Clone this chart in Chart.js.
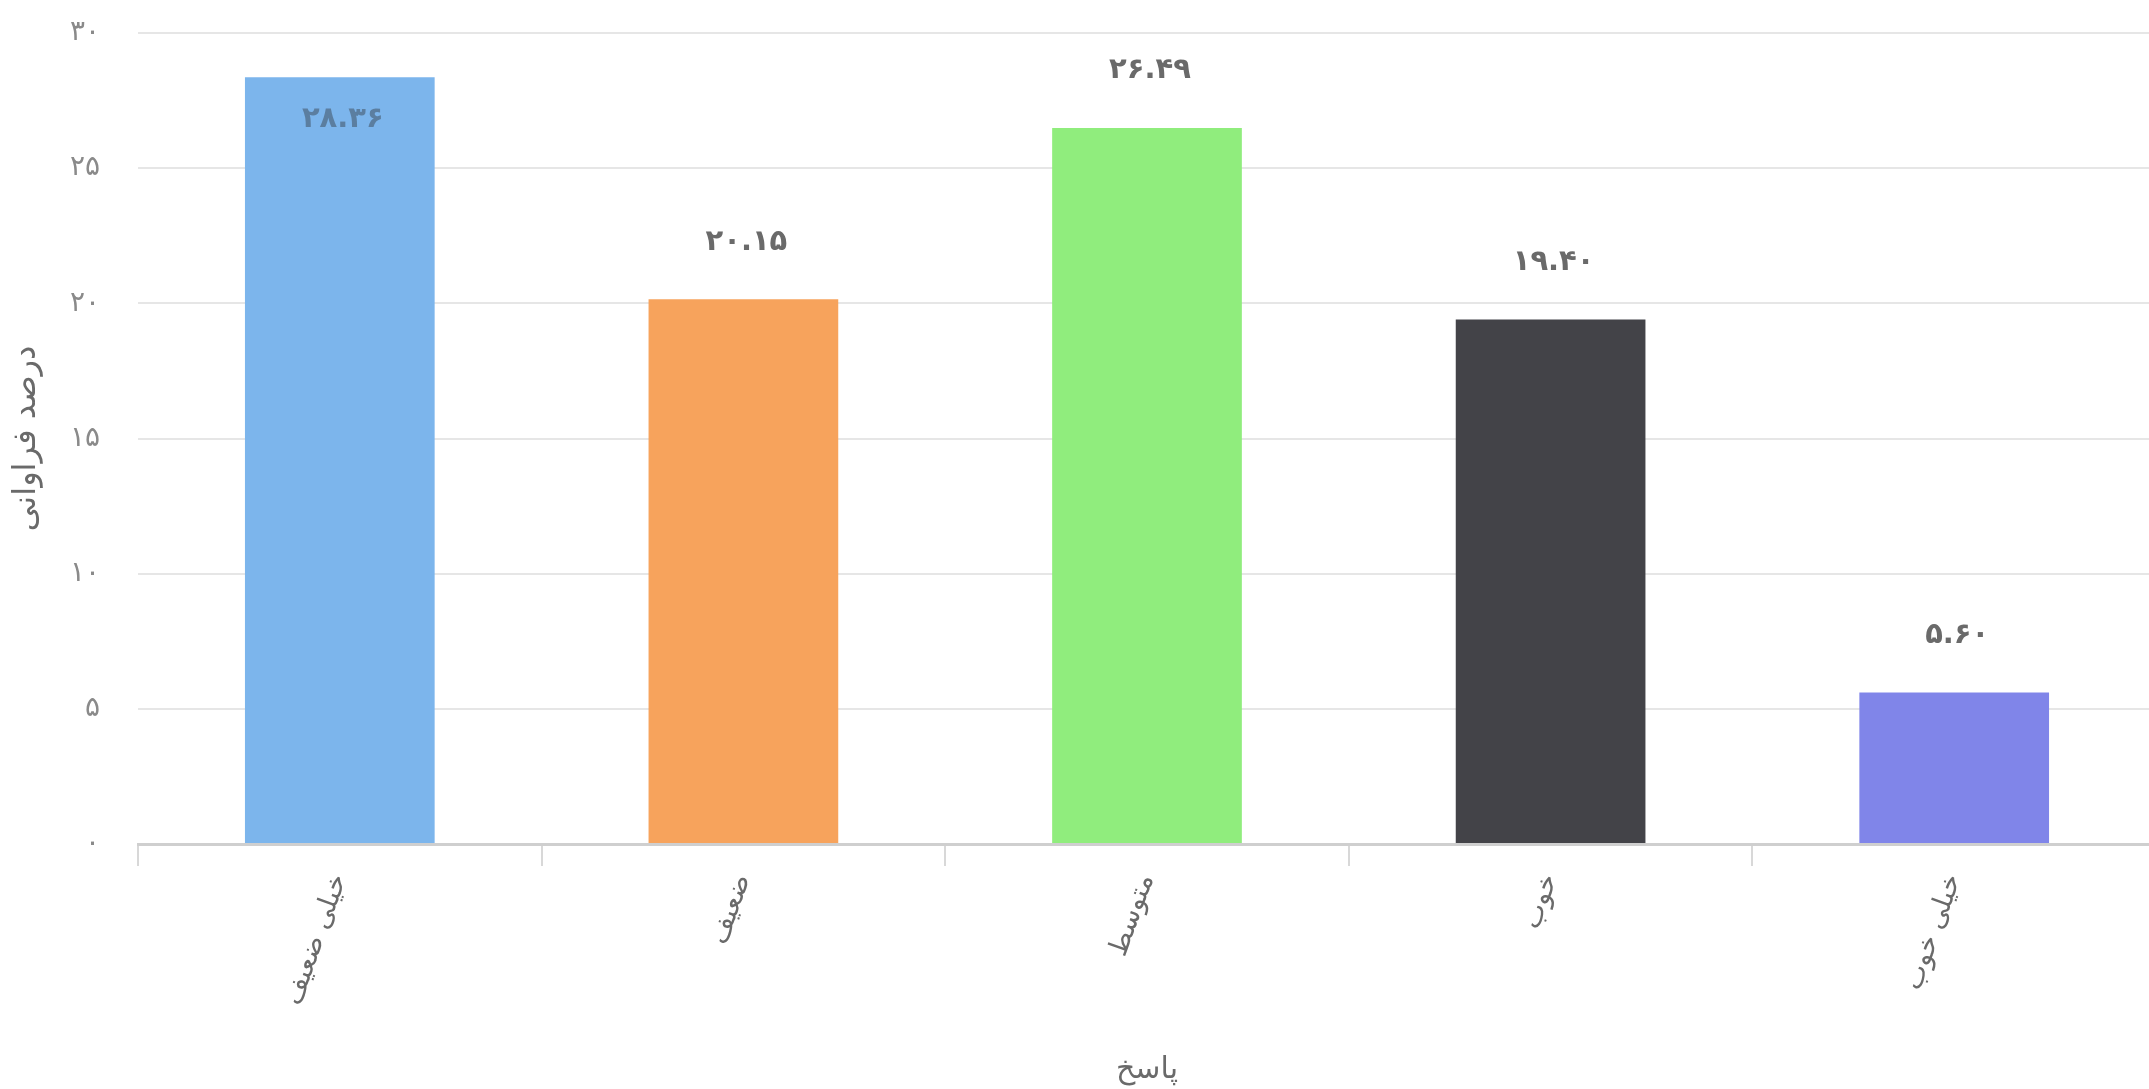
<!DOCTYPE html>
<html>
<head>
<meta charset="utf-8">
<script src="https://cdn.jsdelivr.net/npm/chart.js@4/dist/chart.umd.min.js"></script>
<style>
html,body{margin:0;padding:0;background:#fff;overflow:hidden;}
#wrap{position:relative;width:2156px;height:1089px;}
</style>
</head>
<body>
<div id="wrap"><canvas id="c"></canvas></div>
<script>
const categories = ['خیلی ضعیف', 'ضعیف', 'متوسط', 'خوب', 'خیلی خوب'];
const values = [28.36, 20.15, 26.49, 19.40, 5.60];
const valueLabels = ['۲۸.۳۶', '۲۰.۱۵', '۲۶.۴۹', '۱۹.۴۰', '۵.۶۰'];
const yTickLabels = ['۰', '۵', '۱۰', '۱۵', '۲۰', '۲۵', '۳۰'];
const barColors = ['#7cb5ec', '#f7a35c', '#90ed7d', '#434348', '#8085e9'];
const yTitle = 'درصد فراوانی';
const xTitle = 'پاسخ';

const FONT = '"DejaVu Sans", sans-serif';

const valueLabelPlugin = {
  id: 'valueLabels',
  afterDatasetsDraw(chart) {
    const ctx = chart.ctx;
    const meta = chart.getDatasetMeta(0);
    const area = chart.chartArea;
    ctx.save();
    ctx.font = 'bold 29px ' + FONT;
    ctx.textAlign = 'center';
    ctx.textBaseline = 'middle';
    try { ctx.letterSpacing = '6px'; } catch (e) {}
    meta.data.forEach((el, i) => {
      let y = el.y - 57;
      if (y < area.top) {
        y = el.y + 42;
        ctx.fillStyle = 'rgba(70,90,110,0.6)';
      } else {
        ctx.fillStyle = '#6a6a6a';
      }
      ctx.fillText(valueLabels[i], el.x + 3, y);
    });
    ctx.restore();
  }
};

new Chart(document.getElementById('c'), {
  type: 'bar',
  data: {
    labels: categories,
    datasets: [{
      data: values,
      backgroundColor: barColors,
      borderWidth: 0,
      barPercentage: 0.47,
      categoryPercentage: 1.0
    }]
  },
  options: {
    responsive: true,
    maintainAspectRatio: false,
    animation: false,
    layout: { padding: { top: 33, left: 0, right: 0, bottom: 0 } },
    plugins: { legend: { display: false }, tooltip: { enabled: false } },
    scales: {
      x: {
        afterFit(scale) { scale.height = 245; scale.paddingLeft = 0; scale.paddingRight = 0; },
        border: { display: true, color: '#cfcfcf', width: 3 },
        grid: { display: true, drawOnChartArea: false, drawTicks: true, tickLength: 22, color: '#d8d8d8', lineWidth: 2, offset: true },
        ticks: {
          minRotation: 70, maxRotation: 70, padding: 4,
          color: '#6a6a6a', font: { family: FONT, size: 27 }
        },
        title: {
          display: true, text: xTitle, color: '#6a6a6a',
          font: { family: FONT, size: 30 },
          padding: { top: 0, bottom: 1 }
        }
      },
      y: {
        min: 0, max: 30,
        afterFit(scale) { scale.width = 138; scale.paddingTop = 0; scale.paddingBottom = 0; },
        border: { display: false },
        grid: { color: '#e6e6e6', lineWidth: 2, drawTicks: false },
        ticks: {
          stepSize: 5, padding: 38, color: '#8a8a8a',
          font: { family: FONT, size: 28 },
          callback: (v, i) => yTickLabels[i]
        },
        title: {
          display: true, text: yTitle, color: '#6a6a6a',
          font: { family: FONT, size: 32 },
          padding: { top: 7, bottom: 0 }
        }
      }
    }
  },
  plugins: [valueLabelPlugin]
});
</script>
</body>
</html>
